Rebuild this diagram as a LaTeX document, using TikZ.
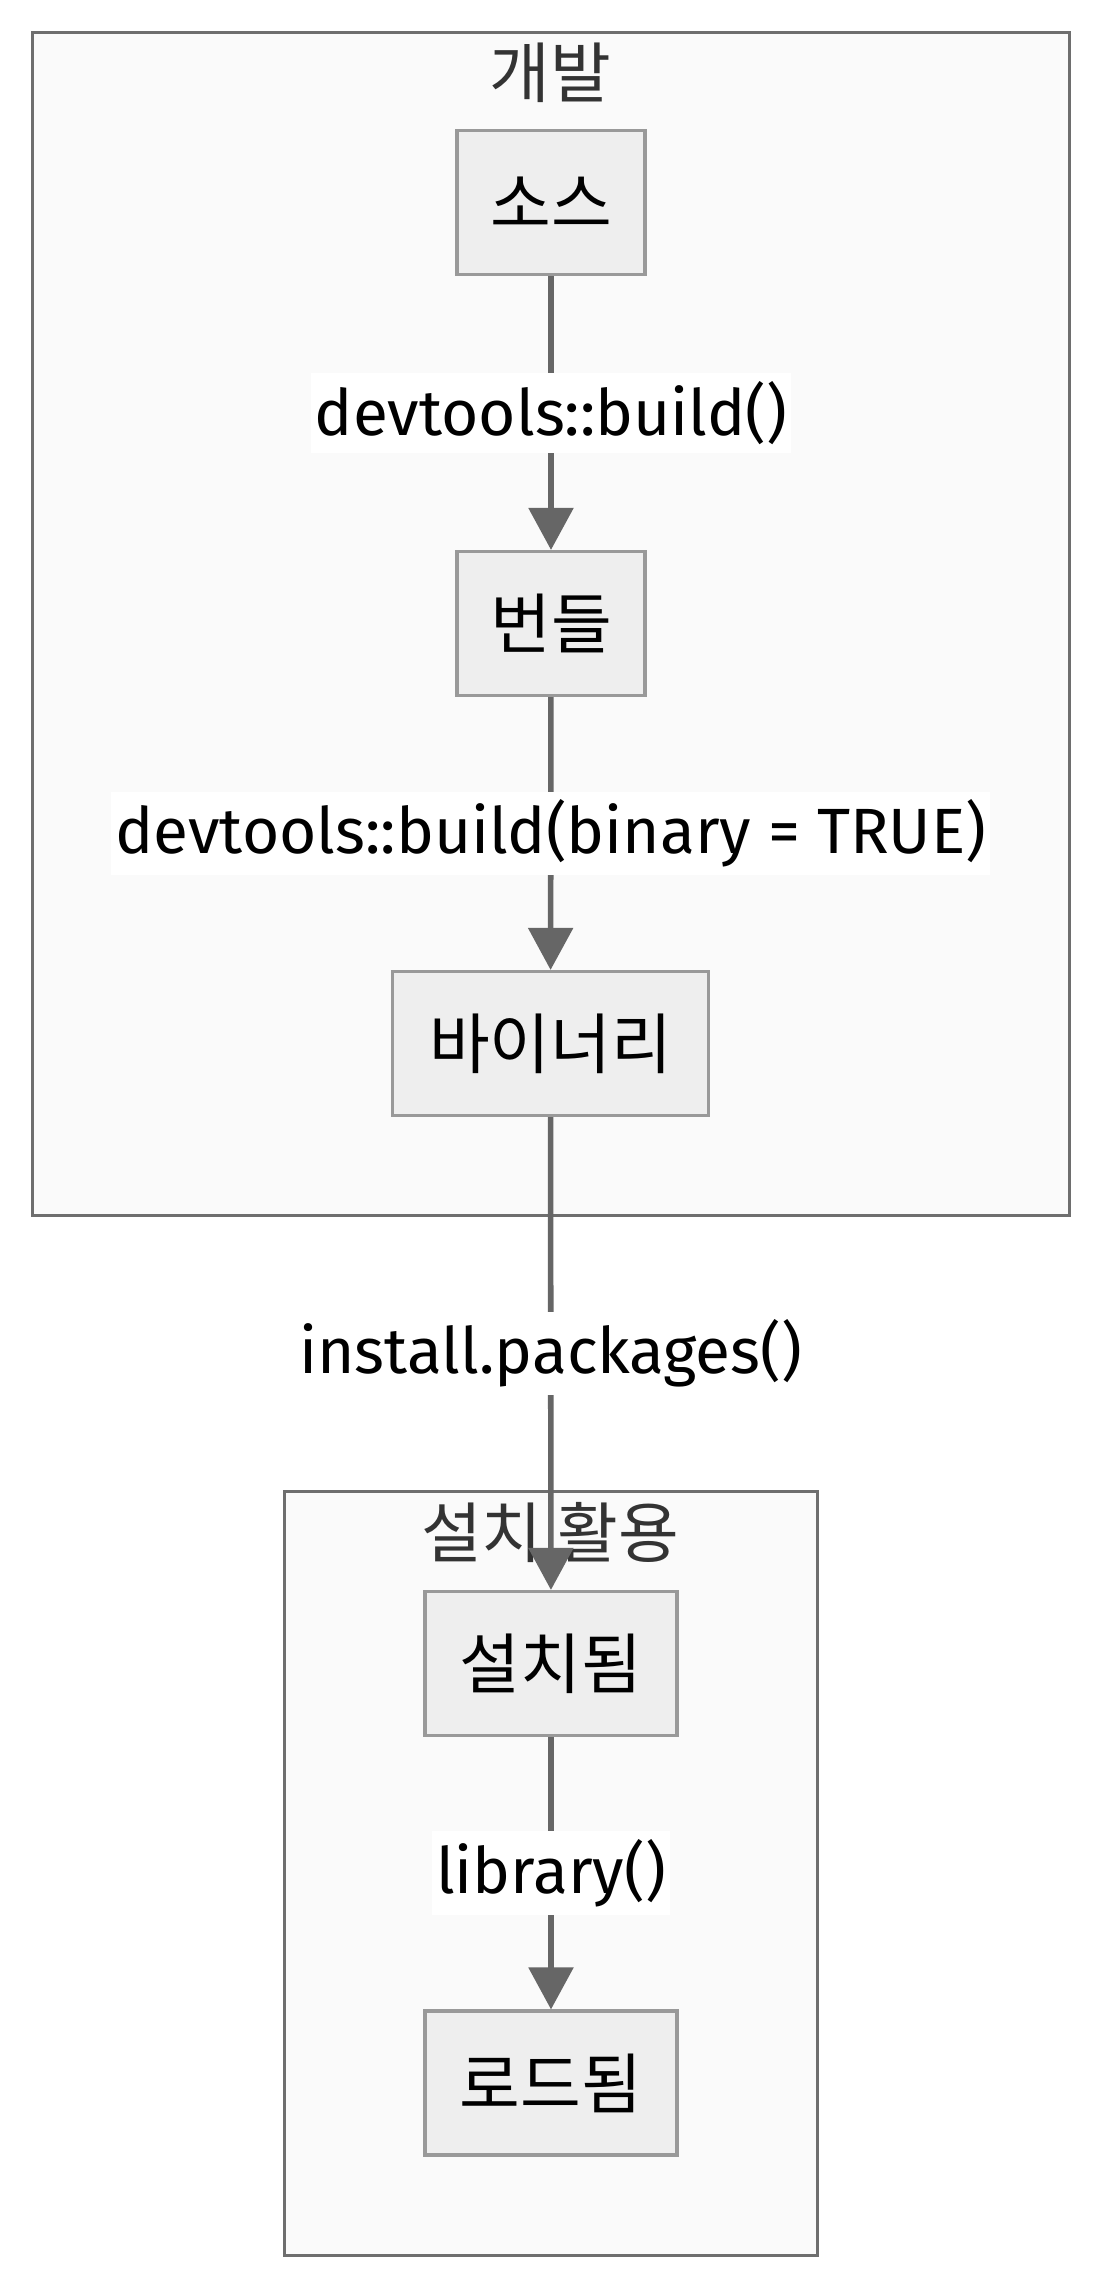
\documentclass[tikz,border=0pt]{standalone}
\usepackage{fontspec}
\setmainfont{Fira Sans}
\newfontfamily\kr{Noto Sans CJK KR}
\usetikzlibrary{arrows.meta}
\definecolor{edgec}{HTML}{666666}
\definecolor{boxfill}{HTML}{EEEEEE}
\definecolor{boxdraw}{HTML}{999999}
\definecolor{clfill}{HTML}{FAFAFA}
\definecolor{cldraw}{HTML}{6E6E6E}
\definecolor{titlec}{HTML}{333333}
\tikzset{
  cluster/.style={draw=cldraw, fill=clfill, line width=1.5pt},
  cltitle/.style={font=\kr\fontsize{33}{36}\selectfont, text=titlec, inner sep=0pt},
  procbox/.style={draw=boxdraw, fill=boxfill, line width=1.6pt, font=\kr\fontsize{33}{36}\selectfont, minimum height=72pt, inner sep=0pt},
  arr/.style={draw=edgec, line width=2.8pt, -{Triangle[width=22pt,length=21pt]}},
  lbl/.style={fill=white, font=\fontsize{32}{36}\selectfont, text=black, inner xsep=2pt, inner ysep=4pt}
}
\begin{document}
\begin{tikzpicture}[x=0.5pt,y=-0.5pt]
\useasboundingbox[fill=white] (0,0) rectangle (1100,2288);
% clusters
\draw[cluster] (32,32) rectangle (1069,1215);
\node[cltitle] (t1) at (550,73) {개발};
\draw[cluster] (284,1491) rectangle (817,2255);
\node[cltitle] (t2) at (550,1532) {설치 활용};
% nodes
\node[procbox, minimum width=94pt] (src) at (551,202.5) {소스};
\node[procbox, minimum width=94pt] (bnd) at (551,623.5) {번들};
\node[procbox, minimum width=158pt] (bin) at (550.5,1043.5) {바이너리};
\node[procbox, minimum width=126pt] (ins) at (551,1663.5) {설치됨};
\node[procbox, minimum width=126pt] (lod) at (551,2083) {로드됨};
% edges
\draw[arr] (src) -- node[lbl] (l1) {devtools::build()} (bnd);
\draw[arr] (bnd) -- node[lbl] (l2) {devtools::build(binary = TRUE)} (bin);
\draw[arr] (bin) -- node[lbl] (l3) {install.packages()} (ins);
\draw[arr] (ins) -- node[lbl] (l4) {library()} (lod);
\end{tikzpicture}
\end{document}
